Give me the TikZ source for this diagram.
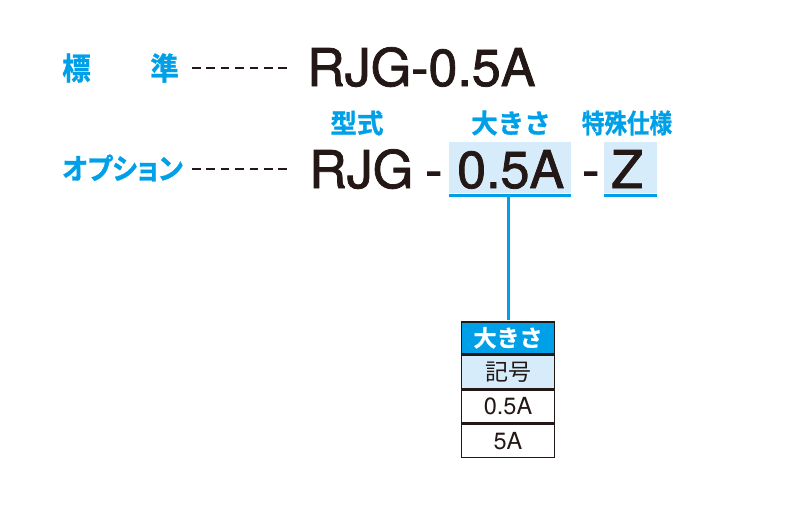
\documentclass[tikz,border=0pt]{standalone}
\usepackage{fontspec}
\setmainfont{TeX Gyre Heros}
\newfontfamily\bigf[FakeBold=1.5]{TeX Gyre Heros}
\newfontfamily\jpb[FakeBold=1]{Noto Sans CJK JP Bold}
\newfontfamily\jpbp[RawFeature=+palt, FakeStretch=0.92, FakeBold=1]{Noto Sans CJK JP Bold}
\newfontfamily\jpbn[FakeStretch=0.85, FakeBold=1]{Noto Sans CJK JP Bold}
\newfontfamily\jpr{Noto Sans CJK JP}
\definecolor{cblue}{RGB}{0,160,233}
\definecolor{lblue}{RGB}{214,236,250}
\definecolor{ink}{RGB}{35,24,21}
\begin{document}
\begin{tikzpicture}[x=1pt,y=-1pt,
  lab/.style={font=\jpb\fontsize{26.5}{26.5}\selectfont, text=cblue, inner sep=0pt},
  lablg/.style={font=\jpbp\fontsize{29}{29}\selectfont, text=cblue, inner sep=0pt},
  big/.style={font=\bigf\fontsize{52}{52}\selectfont, text=ink, inner sep=0pt, anchor=base west},
  dsh/.style={draw=ink, line width=2pt, dash pattern=on 8.5pt off 5.9pt},
  ubar/.style={draw=cblue, line width=3.5pt},
  cell/.style={draw=ink, line width=1.5pt, minimum width=93pt, inner sep=0pt, anchor=north}]
\useasboundingbox (0,0) rectangle (800,504);
% standard row
\node[lablg, font=\jpbp\fontsize{31}{31}\selectfont, anchor=west] (std1) at (62,68) {標};
\node[lablg, font=\jpbp\fontsize{31}{31}\selectfont, anchor=east] (std2) at (179,68) {準};
\coordinate (d1a) at (192,68); \coordinate (d1b) at (290,68);
\draw[dsh] (d1a) -- (d1b);
\node[big] (stdcode) at (307,86) {RJG-0.5A};
% option row
\node[lablg, anchor=west] (opt) at (62,168) {オプション};
\coordinate (d2a) at (192,169); \coordinate (d2b) at (290,169);
\draw[dsh] (d2a) -- (d2b);
\node[fill=lblue, minimum width=122pt, minimum height=51pt, inner sep=0pt, anchor=north west] (box1) at (448.5,142) {};
\node[fill=lblue, minimum width=53pt, minimum height=51pt, inner sep=0pt, anchor=north west] (box2) at (603.5,142) {};
\node[big] (rjg) at (309,188) {RJG};
\node[big] (dash1) at (425,188) {-};
\node[big] (size) at (457,188) {0.5A};
\node[big] (dash2) at (582,188) {-};
\node[big] (z) at (611,188) {Z};
\node[lab] (t1) at (357,123) {型式};
\node[lab] (t2) at (511,123) {大きさ};
\node[lab, font=\jpbn\fontsize{26.5}{26.5}\selectfont] (t3) at (627,123) {特殊仕様};
\coordinate (u1a) at (448.5,195.5); \coordinate (u1b) at (570.5,195.5);
\coordinate (u2a) at (603.5,195.5); \coordinate (u2b) at (656.5,195.5);
\draw[ubar] (u1a) -- (u1b);
\draw[ubar] (u2a) -- (u2b);
% table
\node[cell, fill=cblue, minimum height=32pt, text=white, font=\jpb\fontsize{23}{23}\selectfont] (h) at (508,321) {大きさ};
\node[cell, fill=lblue, minimum height=33pt, text=ink, font=\jpr\fontsize{23}{23}\selectfont] (k) at (h.south) {記号};
\node[cell, fill=white, minimum height=33pt, text=ink, font=\fontsize{23.5}{23.5}\selectfont] (r1) at (k.south) {0.5A};
\node[cell, fill=white, minimum height=33pt, text=ink, font=\fontsize{23.5}{23.5}\selectfont] (r2) at (r1.south) {5A};
\coordinate (v1) at (508.5,195.5); \coordinate (v2) at (508.5,320);
\draw[ubar] (v1) -- (v2);
\end{tikzpicture}
\end{document}
